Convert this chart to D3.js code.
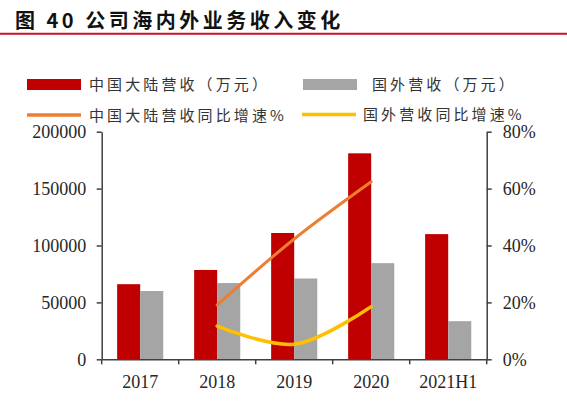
<!DOCTYPE html>
<html>
<head>
<meta charset="utf-8">
<script src="https://cdn.jsdelivr.net/npm/d3@7"></script>
<style>
  body { margin: 0; background: #fff; }
  svg { display: block; }
</style>
</head>
<body>
<svg id="chart" width="567" height="420"></svg>
<script>
// 数据
const categories = ["2017", "2018", "2019", "2020", "2021H1"];
const mainlandRevenue = [66000, 78500, 111000, 181000, 110000];
const overseasRevenue = [60000, 67000, 71000, 84500, 33500];
const mainlandGrowth = [null, 19.1, 42.3, 62.4, null];
const overseasGrowth = [null, 11.7, 5.3, 18.5, null];
const leftTicks = [0, 50000, 100000, 150000, 200000];
const rightTicks = [0, 20, 40, 60, 80];

const seriesNames = {
    cn: "中国大陆营收（万元）",
    abroad: "国外营收（万元）",
    cnGrowth: "中国大陆营收同比增速%",
    abroadGrowth: "国外营收同比增速%"
};
const colors = { cn: "#c00000", abroad: "#a5a5a5", cnGrowth: "#ed7d31", abroadGrowth: "#ffc000" };

const svg = d3.select("#chart");
const plotLeft = 101.7, plotRight = 486.7, plotTop = 131.7, plotBottom = 359.3;
const numFont = "'Liberation Serif', 'Times New Roman', serif";
const cjkFont = "'Noto Sans CJK SC', sans-serif";

// 标题
svg.append("text")
    .attr("x", 15)
    .attr("y", 19)
    .attr("dominant-baseline", "central")
    .style("font", `bold 20px ${cjkFont}`)
    .style("letter-spacing", "3.5px")
    .attr("fill", "#111")
    .text("图 40 公司海内外业务收入变化");

svg.append("line")
    .attr("x1", 0).attr("x2", 567)
    .attr("y1", 33.7).attr("y2", 33.7)
    .attr("stroke", "#c8102e")
    .attr("stroke-width", 2);

// 比例尺
const x = d3.scaleBand().domain(categories).range([plotLeft, plotRight]).paddingInner(0).paddingOuter(0);
const xs = d3.scaleBand().domain(["cn", "abroad"]).range([0, x.bandwidth()]).paddingInner(0).paddingOuter(0.67);
const y = d3.scaleLinear().domain([0, 200000]).range([plotBottom, plotTop]);
const y2 = d3.scaleLinear().domain([0, 80]).range([plotBottom, plotTop]);

// 柱子
const rows = categories.map((c, i) => ({ cat: c, cn: mainlandRevenue[i], abroad: overseasRevenue[i] }));
svg.append("g")
    .selectAll("g")
    .data(rows)
    .enter().append("g")
    .attr("transform", d => `translate(${x(d.cat)},0)`)
    .selectAll("rect")
    .data(d => ["cn", "abroad"].map(k => ({ key: k, value: d[k] })))
    .enter().append("rect")
    .attr("x", d => xs(d.key))
    .attr("width", xs.bandwidth())
    .attr("y", d => y(d.value))
    .attr("height", d => plotBottom - y(d.value))
    .attr("fill", d => colors[d.key]);

// 增速曲线
const line = d3.line()
    .defined(d => d.v != null)
    .x(d => x(d.cat) + x.bandwidth() / 2)
    .y(d => y2(d.v))
    .curve(d3.curveCatmullRom.alpha(0.5));

[["cnGrowth", mainlandGrowth, 3], ["abroadGrowth", overseasGrowth, 3.5]].forEach(([key, vals, w]) => {
    svg.append("path")
        .datum(categories.map((c, i) => ({ cat: c, v: vals[i] })))
        .attr("d", line)
        .attr("fill", "none")
        .attr("stroke", colors[key])
        .attr("stroke-width", w)
        .attr("stroke-linecap", "round");
});

// 坐标轴
const axisColor = "#404040";
const leftAxis = svg.append("g")
    .attr("transform", `translate(${plotLeft},0)`)
    .call(d3.axisLeft(y).tickValues(leftTicks).tickFormat(d3.format("d")).tickSize(5).tickSizeOuter(0).tickPadding(10.5));

const rightAxis = svg.append("g")
    .attr("transform", `translate(${plotRight},0)`)
    .call(d3.axisRight(y2).tickValues(rightTicks).tickFormat(d => d + "%").tickSize(5).tickSizeOuter(0).tickPadding(11));

const bottomAxis = svg.append("g")
    .attr("transform", `translate(0,${plotBottom})`)
    .call(d3.axisBottom(x).tickSize(0).tickPadding(16));

// x轴分隔刻度
bottomAxis.selectAll(".sep")
    .data(categories.map(c => x(c)).concat([plotRight]))
    .enter().append("line")
    .attr("class", "sep")
    .attr("x1", d => d).attr("x2", d => d)
    .attr("y1", 0).attr("y2", 5)
    .attr("stroke", axisColor)
    .attr("stroke-width", 1.5);

[leftAxis, rightAxis, bottomAxis].forEach(g => {
    g.selectAll(".domain, .tick line").attr("stroke", axisColor).attr("stroke-width", 1.5);
    g.selectAll("text")
        .style("font", `18px ${numFont}`)
        .attr("fill", "#262626");
});

// 图例
const legend = [
    { key: "cn", type: "rect", x: 27, y: 84.5, tx: 89 },
    { key: "abroad", type: "rect", x: 303, y: 84.5, tx: 372 },
    { key: "cnGrowth", type: "line", x: 27, y: 115, tx: 89 },
    { key: "abroadGrowth", type: "line", x: 302, y: 114.5, tx: 363 }
];
const lg = svg.append("g").selectAll("g")
    .data(legend)
    .enter().append("g");

lg.filter(d => d.type === "rect").append("rect")
    .attr("x", d => d.x).attr("y", d => d.y - 5.5)
    .attr("width", 54).attr("height", 11)
    .attr("fill", d => colors[d.key]);

lg.filter(d => d.type === "line").append("line")
    .attr("x1", d => d.x).attr("x2", d => d.x + 54)
    .attr("y1", d => d.y).attr("y2", d => d.y)
    .attr("stroke", d => colors[d.key])
    .attr("stroke-width", 3.5);

lg.append("text")
    .attr("x", d => d.tx)
    .attr("y", d => d.y - 1)
    .attr("dominant-baseline", "central")
    .style("font", `15px ${cjkFont}`)
    .style("letter-spacing", "3.1px")
    .attr("fill", "#333")
    .text(d => seriesNames[d.key]);
</script>
</body>
</html>
